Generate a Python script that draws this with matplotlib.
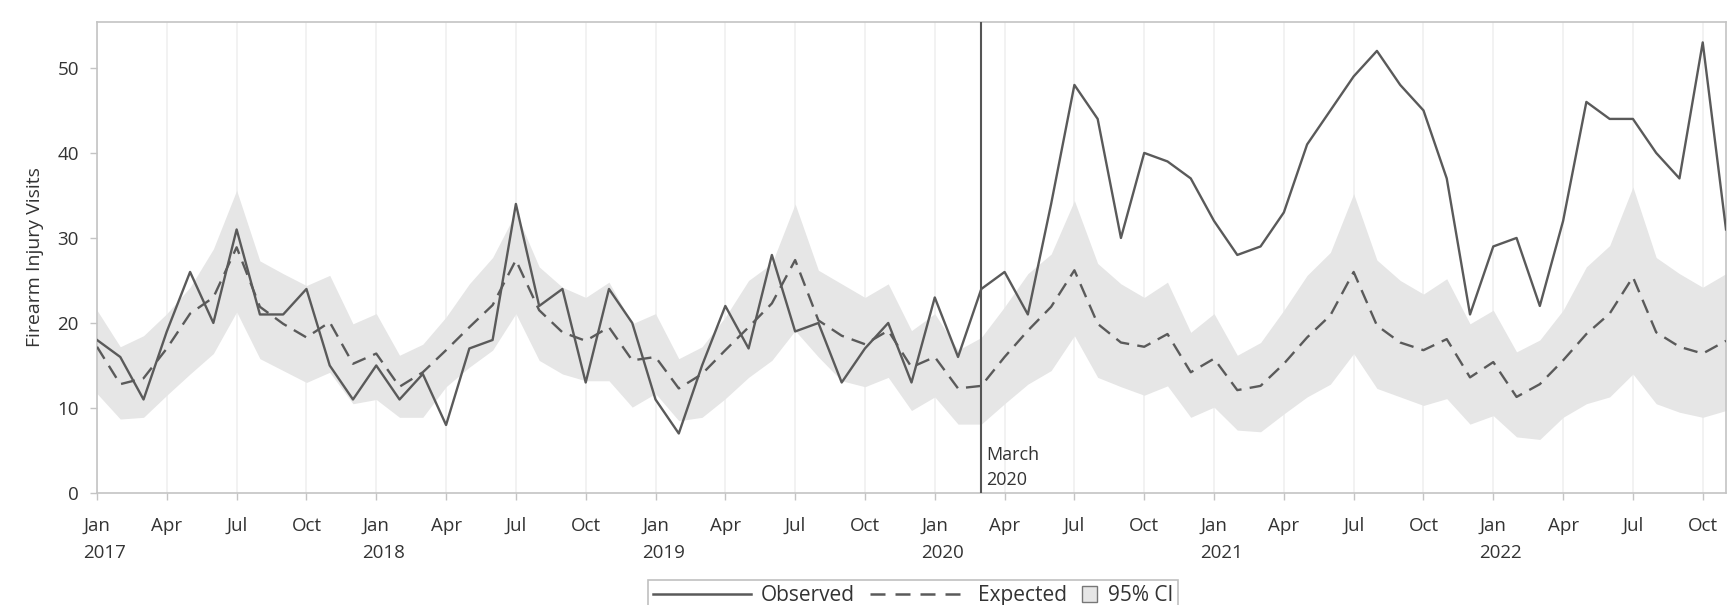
import numpy as np
import matplotlib
matplotlib.use("Agg")
import matplotlib.pyplot as plt
import matplotlib.patches as mpatches
from matplotlib.lines import Line2D

plt.rcParams['font.family'] = ['Open Sans', 'DejaVu Sans']

# Monthly data, Jan 2017 .. Nov 2022
observed = [18, 16, 11, 19, 26, 20, 31, 21, 21, 24, 15, 11,
            15, 11, 14, 8, 17, 18, 34, 22, 24, 13, 24, 20,
            11, 7, 15, 22, 17, 28, 19, 20, 13, 17, 20, 13,
            23, 16, 24, 26, 21, 34, 48, 44, 30, 40, 39, 37,
            32, 28, 29, 33, 41, 45, 49, 52, 48, 45, 37, 21,
            29, 30, 22, 32, 46, 44, 44, 40, 37, 53, 31]
expected = [17.2, 12.8, 13.5, 17.0, 21.1, 23.0, 28.9, 21.9, 19.9, 18.3, 20.1, 15.2,
            16.4, 12.5, 14.2, 16.8, 19.5, 22.1, 27.4, 21.5, 18.9, 17.9, 19.5, 15.6,
            16.0, 12.3, 14.0, 16.8, 19.5, 22.3, 27.4, 20.3, 18.5, 17.5, 19.1, 14.8,
            16.0, 12.3, 12.6, 16.0, 19.1, 21.9, 26.2, 19.9, 17.7, 17.2, 18.7, 14.2,
            15.8, 12.1, 12.6, 15.2, 18.3, 20.9, 26.0, 19.7, 17.7, 16.8, 18.1, 13.6,
            15.4, 11.3, 12.8, 15.6, 18.7, 21.1, 25.4, 18.9, 17.2, 16.4, 17.9]
ci_upper = [21.5, 17.2, 18.5, 21.1, 24.2, 28.7, 35.6, 27.3, 25.8, 24.4, 25.6, 19.9,
            21.1, 16.2, 17.5, 20.7, 24.6, 27.7, 33.0, 26.6, 24.2, 23.0, 24.8, 19.9,
            21.1, 15.8, 17.2, 20.7, 25.0, 27.0, 34.0, 26.2, 24.6, 23.0, 24.6, 19.1,
            21.1, 16.8, 18.3, 21.9, 25.8, 28.1, 34.4, 27.0, 24.6, 23.0, 24.8, 18.9,
            21.1, 16.2, 17.7, 21.5, 25.6, 28.3, 35.2, 27.4, 25.0, 23.4, 25.2, 19.9,
            21.5, 16.6, 18.0, 21.5, 26.6, 29.1, 36.0, 27.7, 25.8, 24.2, 25.8]
ci_lower = [11.7, 8.7, 8.9, 11.5, 14.0, 16.4, 21.3, 15.8, 14.4, 13.0, 14.2, 10.5,
            11.0, 8.9, 8.9, 12.5, 14.8, 16.8, 21.1, 15.6, 14.0, 13.2, 13.2, 10.1,
            11.7, 8.5, 8.9, 11.1, 13.6, 15.6, 19.1, 16.0, 13.2, 12.5, 13.6, 9.7,
            11.3, 8.1, 8.1, 10.5, 12.8, 14.4, 18.5, 13.6, 12.5, 11.5, 12.6, 8.9,
            10.1, 7.4, 7.2, 9.3, 11.3, 12.8, 16.4, 12.3, 11.3, 10.3, 11.1, 8.1,
            9.1, 6.6, 6.3, 8.9, 10.5, 11.3, 14.0, 10.5, 9.5, 8.9, 9.7]

tick_months = ["Jan", "Apr", "Jul", "Oct"] * 6
year_labels = ["2017", "2018", "2019", "2020", "2021", "2022"]
event_index = 38  # March 2020
event_label = "March\n2020"

x = np.arange(len(observed))

W, H = 1729, 605
fig = plt.figure(figsize=(W / 100, H / 100), dpi=100)
ax = fig.add_axes([97 / W, 1 - 493 / H, (1726 - 97) / W, (493 - 22) / H])

line_col = '#5a5a5a'
band_col = '#e6e6e6'
spine_col = '#c4c4c4'
text_col = '#333333'

ax.fill_between(x, ci_lower, ci_upper, color=band_col, lw=0, zorder=1)
ax.plot(x, expected, color=line_col, lw=1.7, dashes=(6, 3.5), zorder=3)
ax.plot(x, observed, color=line_col, lw=1.7, zorder=4)
ax.axvline(event_index, color='#555555', lw=1.5, zorder=5)
ax.text(event_index + 0.2, 0.5, event_label, fontsize=13, color=text_col,
        ha='left', va='bottom', linespacing=1.45, zorder=6)

ax.set_xlim(0, len(observed) - 1)
ax.set_ylim(0, 55.4)

ticks = np.arange(0, len(observed), 3)
ax.set_xticks(ticks)
ax.set_xticklabels(tick_months[:len(ticks)])
ax.set_yticks([0, 10, 20, 30, 40, 50])
ax.grid(axis='x', color='#f0f0f0', lw=1.2, zorder=0)
ax.set_axisbelow(True)

for i, yl in enumerate(year_labels):
    ax.annotate(yl, xy=(12 * i, 0), xycoords=('data', 'axes fraction'),
                xytext=(-10, -37), textcoords='offset points',
                ha='left', va='top', fontsize=13.5, color=text_col,
                annotation_clip=False)

ax.tick_params(axis='both', colors=spine_col, labelcolor=text_col,
               labelsize=13.5, length=5, width=1)
ax.tick_params(axis='x', pad=12)
ax.tick_params(axis='y', pad=8)
for s in ax.spines.values():
    s.set_color(spine_col)
    s.set_linewidth(1.2)

ax.set_ylabel("Firearm Injury Visits", fontsize=14, color=text_col, labelpad=10)


class SquareHandler:
    def legend_artist(self, legend, orig_handle, fontsize, handlebox):
        s = fontsize * 0.75
        handlebox.width = s
        x0, y0 = handlebox.xdescent, handlebox.ydescent
        p = mpatches.Rectangle((-x0, -y0 + (handlebox.height - s) / 2), s, s,
                               facecolor=band_col, edgecolor='#777777', lw=1,
                               transform=handlebox.get_transform())
        handlebox.add_artist(p)
        return p


h_obs = Line2D([], [], color=line_col, lw=1.8)
h_exp = Line2D([], [], color=line_col, lw=1.8, dashes=(6, 4))
h_ci = mpatches.Patch(facecolor=band_col, edgecolor='#777777')
leg = fig.legend([h_obs, h_exp, h_ci], ["Observed", "Expected", "95% CI"],
                 loc='upper center', bbox_to_anchor=(0.528, 1 - 580 / H),
                 borderaxespad=0,
                 ncol=3, frameon=True, fancybox=False, fontsize=15,
                 handlelength=4.7, handletextpad=0.5, columnspacing=0.7,
                 borderpad=0.25, handler_map={mpatches.Patch: SquareHandler()})
leg.get_frame().set_edgecolor('#b0b0b0')
leg.get_frame().set_linewidth(1.2)
for t in leg.get_texts():
    t.set_color(text_col)

fig.savefig("out.png", dpi=100)
